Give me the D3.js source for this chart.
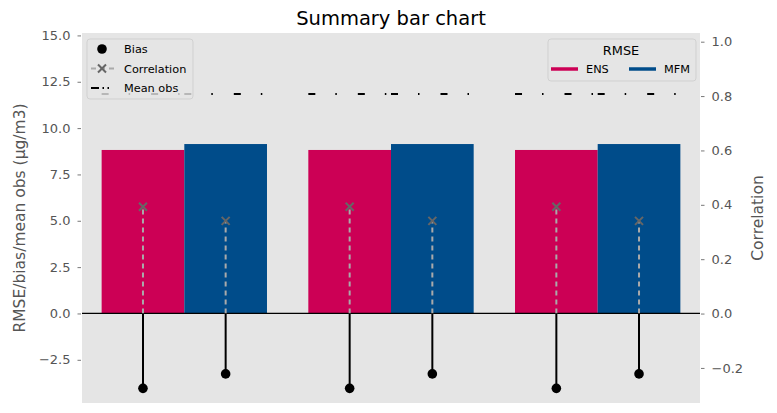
<!DOCTYPE html>
<html>
<head>
<meta charset="utf-8">
<script src="https://cdn.jsdelivr.net/npm/d3@7"></script>
<style>
  body { margin: 0; background: #fff; }
  text { font-family: "DejaVu Sans", sans-serif; }
</style>
</head>
<body>
<div id="chart"></div>
<script>
var groups = ["g1", "g2", "g3"];
var models = ["ENS", "MFM"];
var colors = ["#cc0055", "#004c8a"];
var rmseENS = [8.82, 8.82, 8.82];
var rmseMFM = [9.14, 9.14, 9.14];
var biasENS = [-4.04, -4.04, -4.04];
var biasMFM = [-3.26, -3.26, -3.26];
var corrENS = [0.393, 0.393, 0.393];
var corrMFM = [0.341, 0.341, 0.341];
var meanObsENS = [11.84, 11.84, 11.84];
var meanObsMFM = [11.84, 11.84, 11.84];
var leftTicks = [-2.5, 0, 2.5, 5, 7.5, 10, 12.5, 15];
var rightTicks = [-0.2, 0, 0.2, 0.4, 0.6, 0.8, 1.0];

function readAndDraw() {
  var width = 777, height = 413;
  var left = 82, right = 700, top = 33, bottom = 403;
  var barW = 0.4;

  // one record per bar
  var bars = [];
  groups.forEach(function(g, i) {
    bars.push({ pos: i - barW, m: 0, rmse: rmseENS[i], bias: biasENS[i], corr: corrENS[i], obs: meanObsENS[i] });
    bars.push({ pos: i, m: 1, rmse: rmseMFM[i], bias: biasMFM[i], corr: corrMFM[i], obs: meanObsMFM[i] });
  });

  var x = d3.scaleLinear().domain([-0.495, 2.495]).range([left, right]);
  var yL = d3.scaleLinear().domain([-4.83, 15.13]).range([bottom, top]);
  var yR = d3.scaleLinear().domain([-0.329, 1.032]).range([bottom, top]);

  var fmt = function(d) { return d3.format(".1f")(d).replace("-", "\u2212"); };

  var svg = d3.select("#chart").append("svg")
    .attr("width", width)
    .attr("height", height);

  svg.append("rect")
    .attr("x", left).attr("y", top)
    .attr("width", right - left).attr("height", bottom - top)
    .attr("fill", "#e5e5e5");

  // axes
  var axL = svg.append("g")
    .attr("transform", "translate(" + (left - 1) + ",0)")
    .call(d3.axisLeft(yL).tickValues(leftTicks).tickFormat(fmt).tickSize(3.5).tickPadding(7));
  var axR = svg.append("g")
    .attr("transform", "translate(" + (right + 1) + ",0)")
    .call(d3.axisRight(yR).tickValues(rightTicks).tickFormat(fmt).tickSize(3.5).tickPadding(7));
  [axL, axR].forEach(function(ax) {
    ax.select(".domain").remove();
    ax.selectAll("line").attr("stroke", "#555").attr("stroke-width", 0.8);
    ax.selectAll("text").attr("fill", "#555").attr("font-size", 13)
      .attr("font-family", "DejaVu Sans");
  });

  // RMSE bars
  svg.selectAll(".bar")
    .data(bars)
    .enter()
    .append("rect")
    .attr("class", "bar")
    .attr("x", function(d) { return x(d.pos); })
    .attr("width", function(d) { return x(d.pos + barW) - x(d.pos); })
    .attr("y", function(d) { return yL(d.rmse); })
    .attr("height", function(d) { return yL(0) - yL(d.rmse); })
    .style("fill", function(d) { return colors[d.m]; });

  // mean obs lines
  svg.selectAll(".obs")
    .data(bars)
    .enter()
    .append("line")
    .attr("class", "obs")
    .attr("x1", function(d) { return x(d.pos); })
    .attr("x2", function(d) { return x(d.pos + barW); })
    .attr("y1", function(d) { return yL(d.obs); })
    .attr("y2", function(d) { return yL(d.obs); })
    .attr("stroke", "#000")
    .attr("stroke-width", 2)
    .attr("stroke-dasharray", "7,20,1.5,21");

  // zero line
  svg.append("line")
    .attr("x1", left).attr("x2", right)
    .attr("y1", yL(0)).attr("y2", yL(0))
    .attr("stroke", "#000").attr("stroke-width", 1.3);

  var cx = function(d) { return x(d.pos + barW / 2); };

  // correlation stems
  svg.selectAll(".cstem")
    .data(bars)
    .enter()
    .append("line")
    .attr("x1", cx).attr("x2", cx)
    .attr("y1", yR(0))
    .attr("y2", function(d) { return yR(d.corr); })
    .attr("stroke", "#aaaaaa")
    .attr("stroke-width", 2)
    .attr("stroke-dasharray", "5,4");

  svg.selectAll(".cmark")
    .data(bars)
    .enter()
    .append("path")
    .attr("transform", function(d) { return "translate(" + cx(d) + "," + yR(d.corr) + ")"; })
    .attr("d", "M-4,-4L4,4M-4,4L4,-4")
    .attr("stroke", "#666")
    .attr("stroke-width", 2)
    .attr("fill", "none");

  // bias stems
  svg.selectAll(".bstem")
    .data(bars)
    .enter()
    .append("line")
    .attr("x1", cx).attr("x2", cx)
    .attr("y1", yL(0))
    .attr("y2", function(d) { return yL(d.bias); })
    .attr("stroke", "#000")
    .attr("stroke-width", 2);

  svg.selectAll(".bmark")
    .data(bars)
    .enter()
    .append("circle")
    .attr("cx", cx)
    .attr("cy", function(d) { return yL(d.bias); })
    .attr("r", 4.8)
    .attr("fill", "#000");

  // title and axis labels
  svg.append("text")
    .attr("x", (left + right) / 2).attr("y", 25)
    .attr("text-anchor", "middle")
    .attr("font-size", 19.5)
    .attr("fill", "#000")
    .text("Summary bar chart");

  svg.append("text")
    .attr("transform", "translate(25," + (top + bottom) / 2 + ") rotate(-90)")
    .attr("text-anchor", "middle")
    .attr("font-size", 15.5)
    .attr("fill", "#555")
    .text("RMSE/bias/mean obs (\u03bcg/m3)");

  svg.append("text")
    .attr("transform", "translate(763," + (top + bottom) / 2 + ") rotate(-90)")
    .attr("text-anchor", "middle")
    .attr("font-size", 15.5)
    .attr("fill", "#555")
    .text("Correlation");

  // legend 1: bias / correlation / mean obs
  var lg1 = svg.append("g");
  lg1.append("rect")
    .attr("x", 87).attr("y", 39).attr("width", 106).attr("height", 60)
    .attr("rx", 3)
    .attr("fill", "#e5e5e5").attr("fill-opacity", 0.8)
    .attr("stroke", "#cccccc").attr("stroke-opacity", 0.8);
  lg1.append("circle").attr("cx", 102).attr("cy", 49).attr("r", 4.8).attr("fill", "#000");
  lg1.append("line").attr("x1", 91).attr("x2", 114).attr("y1", 68.5).attr("y2", 68.5)
    .attr("stroke", "#aaaaaa").attr("stroke-width", 2).attr("stroke-dasharray", "5,4");
  lg1.append("path").attr("transform", "translate(102,68.5)")
    .attr("d", "M-4,-4L4,4M-4,4L4,-4")
    .attr("stroke", "#666").attr("stroke-width", 2);
  lg1.append("line").attr("x1", 91).attr("x2", 114).attr("y1", 88).attr("y2", 88)
    .attr("stroke", "#000").attr("stroke-width", 2)
    .attr("stroke-dasharray", "8,3.5,1.5,3.5,1.5,20");
  ["Bias", "Correlation", "Mean obs"].forEach(function(t, i) {
    lg1.append("text")
      .attr("x", 124).attr("y", [49, 68.5, 88][i] + 4)
      .attr("font-size", 11.3)
      .attr("fill", "#000")
      .text(t);
  });

  // legend 2: RMSE models
  var lg2 = svg.append("g");
  lg2.append("rect")
    .attr("x", 548).attr("y", 39).attr("width", 148).attr("height", 42)
    .attr("rx", 3)
    .attr("fill", "#e5e5e5").attr("fill-opacity", 0.8)
    .attr("stroke", "#cccccc").attr("stroke-opacity", 0.8);
  lg2.append("text")
    .attr("x", 621).attr("y", 55)
    .attr("text-anchor", "middle")
    .attr("font-size", 12.9)
    .attr("fill", "#000")
    .text("RMSE");
  models.forEach(function(m, i) {
    var x0 = 551 + i * 78;
    lg2.append("line")
      .attr("x1", x0).attr("x2", x0 + 27)
      .attr("y1", 69).attr("y2", 69)
      .attr("stroke", colors[i]).attr("stroke-width", 3.5);
    lg2.append("text")
      .attr("x", x0 + 35).attr("y", 73)
      .attr("font-size", 11.3)
      .attr("fill", "#000")
      .text(m);
  });
}
readAndDraw();
</script>
</body>
</html>
